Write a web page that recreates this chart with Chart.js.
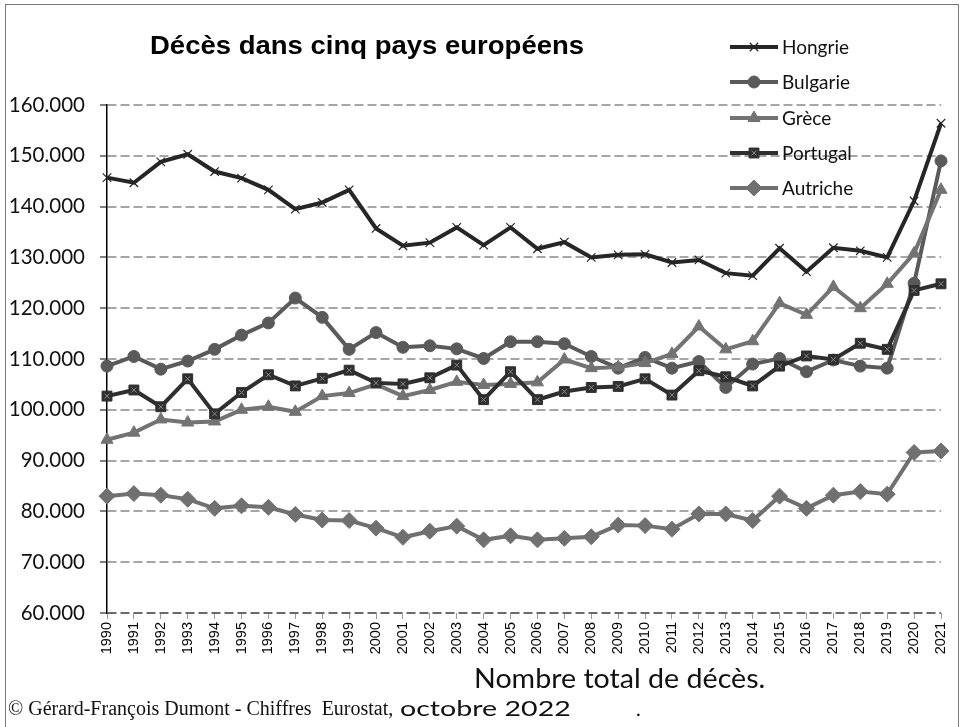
<!DOCTYPE html>
<html>
<head>
<meta charset="utf-8">
<script src="https://cdn.jsdelivr.net/npm/chart.js@4"></script>
<style>
  body { margin: 0; background: #fff; }
  #wrap { position: relative; width: 963px; height: 727px; overflow: hidden; }
  #frame { position: absolute; left: 5px; top: 4px; width: 952px; height: 760px; border: 1.5px solid #7a7a7a; }
  #titre { position: absolute; left: 150px; top: 33px; font: bold 25px "Liberation Sans", Arial, sans-serif; line-height: 1; color: #000; white-space: nowrap; transform: scaleX(1.1); transform-origin: left top; }
  #soustitre { position: absolute; left: 474px; top: 665px; font: 26px Lato, sans-serif; line-height: 1; color: #111; white-space: nowrap; transform: scaleX(1.1); transform-origin: left top; }
  #source { position: absolute; left: 8px; top: 698px; font: 20px "Liberation Serif", serif; line-height: 1; color: #111; white-space: nowrap; }
  #octobre { position: absolute; left: 400px; top: 697px; font: 22px Lato, sans-serif; line-height: 1; color: #111; white-space: nowrap; transform: scaleX(1.3); transform-origin: left top; }
  #point { position: absolute; left: 636px; top: 698px; font: 20px Lato, sans-serif; line-height: 1; }
  canvas { position: absolute; left: 0; top: 0; }
</style>
</head>
<body>
<div id="wrap">
  <div id="frame"></div>
  <canvas id="graphique" width="963" height="727"></canvas>
  <div id="titre">Décès dans cinq pays européens</div>
  <div id="soustitre">Nombre total de décès.</div>
  <div id="source">© Gérard-François Dumont - Chiffres&nbsp; Eurostat,</div>
  <div id="octobre">octobre 2022</div>
  <div id="point">.</div>
</div>
<script>
const annees = ['1990','1991','1992','1993','1994','1995','1996','1997','1998','1999','2000','2001','2002','2003','2004','2005','2006','2007','2008','2009','2010','2011','2012','2013','2014','2015','2016','2017','2018','2019','2020','2021'];

const hongrie = [145700,144700,148800,150300,146900,145600,143300,139500,140800,143300,135700,132300,132900,135900,132400,135900,131700,133000,130000,130500,130600,129000,129500,126900,126400,131800,127200,131900,131300,130000,141100,156400];
const bulgarie = [108600,110500,108000,109600,111900,114700,117100,122000,118200,111900,115200,112300,112600,112000,110100,113400,113400,113000,110500,108200,110300,108200,109500,104400,109000,110100,107500,109800,108600,108200,124900,149000];
const grece = [94100,95500,98100,97500,97700,100000,100600,99600,102700,103300,105000,102700,103900,105500,104900,105100,105400,109900,108200,108400,109200,111000,116400,111900,113500,121000,118700,124200,120000,124800,130800,143300];
const portugal = [102700,103900,100600,106100,99200,103400,106900,104700,106200,107800,105300,105100,106300,108800,102000,107500,102000,103600,104400,104600,106100,102900,107700,106500,104700,108600,110600,109900,113100,111900,123500,124800];
const autriche = [83000,83500,83200,82400,80600,81100,80800,79400,78300,78200,76700,74900,76100,77100,74400,75200,74400,74700,75000,77300,77200,76500,79500,79500,78200,83000,80600,83200,83900,83400,91600,91900];

const yMin = 60000, yMax = 160000, yPas = 10000;

const formatMilliers = v => String(v).replace(/\B(?=(\d{3})+(?!\d))/g, '.');

function serie(label, data, couleur, style, rayon, ordre) {
  return {
    label: label,
    data: data,
    borderColor: couleur,
    backgroundColor: couleur,
    borderWidth: 4,
    pointStyle: style,
    pointRadius: rayon,
    pointBorderWidth: style === 'crossRot' ? 1.2 : 1,
    pointBorderColor: couleur,
    pointBackgroundColor: couleur,
    tension: 0,
    order: ordre
  };
}

const datasets = [
  serie('Hongrie', hongrie, '#262626', 'crossRot', 6, 6),
  serie('Bulgarie', bulgarie, '#5a5a5a', 'circle', 6, 5),
  serie('Grèce', grece, '#737373', 'triangle', 7, 4),
  serie('Portugal', portugal, '#2f2f2f', 'rect', 7, 3),
  serie('Autriche', autriche, '#707070', 'rectRot', 8, 1)
];
// petite croix grise dans les carrés du Portugal
datasets.push({
  label: 'Portugal (croix)',
  data: portugal,
  showLine: false,
  pointStyle: 'crossRot',
  pointRadius: 3.5,
  pointBorderWidth: 1,
  pointBorderColor: '#8a8a8a',
  order: 2
});

const legende = {
  id: 'legende',
  afterDraw(chart) {
    const ctx = chart.ctx;
    const x0 = 730, x1 = 778, ys = [47, 82, 118, 153, 188];
    for (let i = 0; i < 5; i++) {
      const d = chart.data.datasets[i];
      const y = ys[i];
      ctx.save();
      ctx.strokeStyle = d.borderColor;
      ctx.lineWidth = 4;
      ctx.beginPath();
      ctx.moveTo(x0, y);
      ctx.lineTo(x1, y);
      ctx.stroke();
      ctx.fillStyle = d.pointBackgroundColor;
      ctx.strokeStyle = d.pointBorderColor;
      ctx.lineWidth = d.pointBorderWidth;
      Chart.helpers.drawPoint(ctx, {pointStyle: d.pointStyle, radius: d.pointRadius, rotation: 0, borderWidth: d.pointBorderWidth}, (x0 + x1) / 2, y);
      if (i === 3) {
        ctx.strokeStyle = '#8a8a8a';
        ctx.lineWidth = 1;
        Chart.helpers.drawPoint(ctx, {pointStyle: 'crossRot', radius: 3.5, rotation: 0, borderWidth: 1}, (x0 + x1) / 2, y);
      }
      ctx.fillStyle = '#111';
      ctx.font = '19px Lato, sans-serif';
      ctx.textBaseline = 'middle';
      ctx.textAlign = 'left';
      ctx.fillText(d.label, 782, y + 1);
      ctx.restore();
    }
  }
};

new Chart(document.getElementById('graphique'), {
  type: 'line',
  data: { labels: annees, datasets: datasets },
  options: {
    responsive: false,
    animation: false,
    layout: { padding: { left: 0, top: 105, right: 22, bottom: 0 } },
    plugins: { legend: { display: false }, tooltip: { enabled: false }, title: { display: false } },
    scales: {
      x: {
        offset: false,
        afterFit: s => { s.height = 114; },
        grid: { display: true, drawOnChartArea: false, drawTicks: true, tickLength: 6, color: '#9a9a9a', lineWidth: 1 },
        border: { display: false },
        ticks: { autoSkip: false, minRotation: 90, maxRotation: 90, padding: 3, color: '#000', font: { family: 'Liberation Sans', size: 14.5 } }
      },
      y: {
        min: yMin,
        max: yMax,
        afterFit: s => { s.width = 107; },
        grid: {
          color: c => (c.tick && c.tick.value === yMin) ? '#6a6a6a' : '#a6a6a6',
          lineWidth: 2,
          tickLength: 7,
          tickColor: '#000',
          tickWidth: 1,
          tickBorderDash: []
        },
        border: { display: true, color: '#000', width: 1.5, dash: [9, 4] },
        ticks: { stepSize: yPas, padding: 15, color: '#111', font: { family: 'Lato', size: 20.5 }, callback: v => formatMilliers(v) }
      }
    }
  },
  plugins: [legende]
});
</script>
</body>
</html>
